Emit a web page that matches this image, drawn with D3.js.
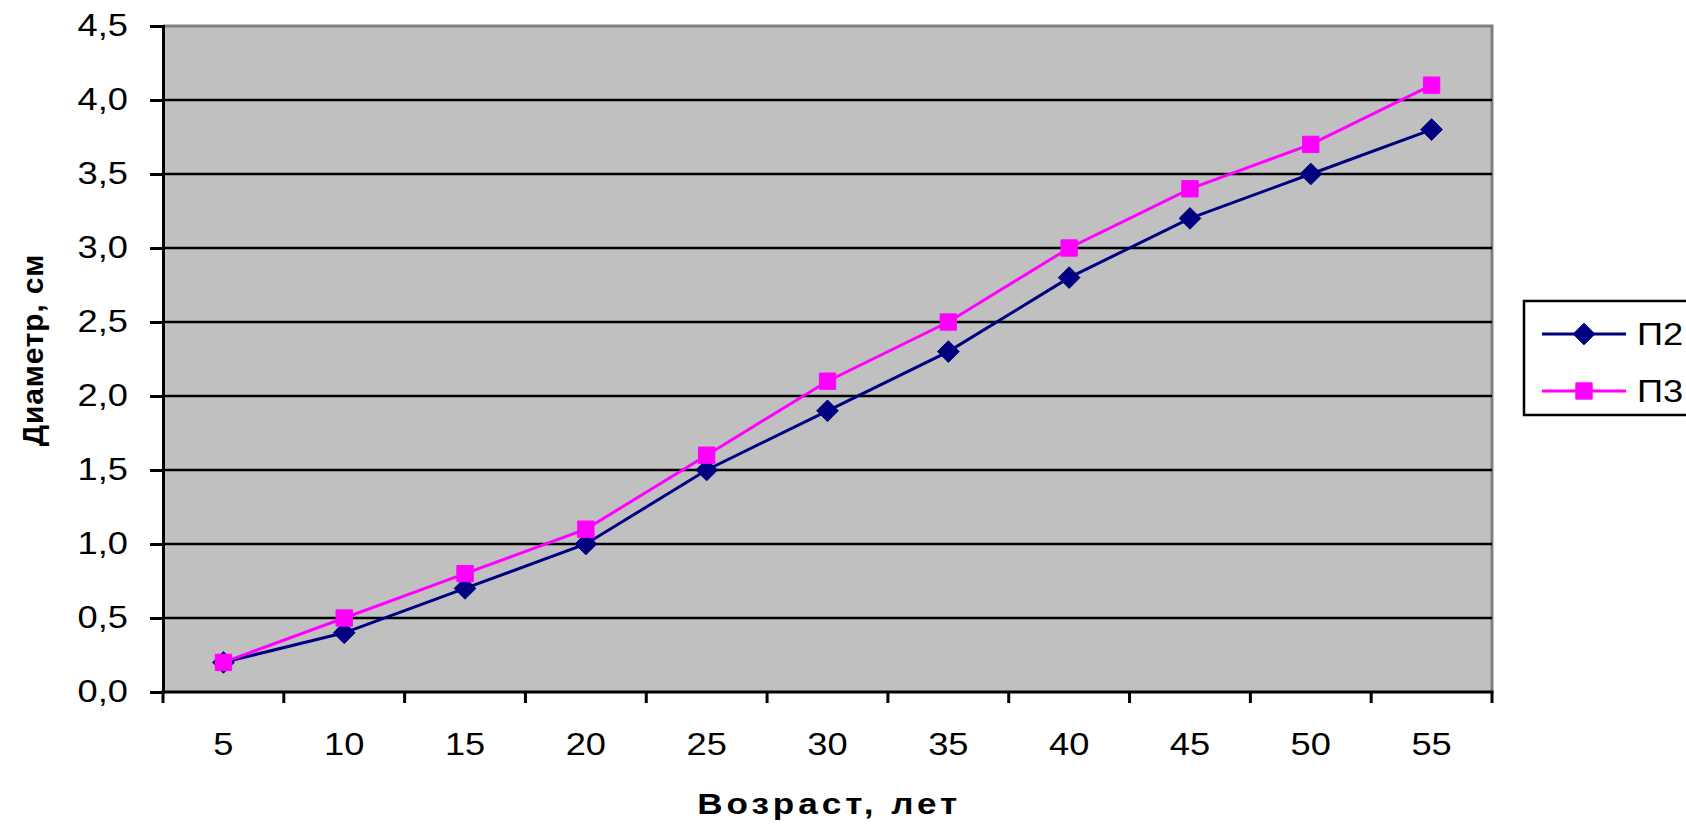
<!DOCTYPE html>
<html>
<head>
<meta charset="utf-8">
<script src="https://cdn.jsdelivr.net/npm/d3@7"></script>
<style>
  html, body { margin: 0; padding: 0; background: #ffffff; overflow: hidden; }
  svg { display: block; font-family: "Liberation Sans", Arial, sans-serif; }
</style>
</head>
<body>
<svg id="chart" width="1686" height="825"></svg>
<script>
// Age classes (years) and mean stem diameter (cm) for two plots
const ages = [5, 10, 15, 20, 25, 30, 35, 40, 45, 50, 55];
const p2 = [0.2, 0.4, 0.7, 1.0, 1.5, 1.9, 2.3, 2.8, 3.2, 3.5, 3.8];
const p3 = [0.2, 0.5, 0.8, 1.1, 1.6, 2.1, 2.5, 3.0, 3.4, 3.7, 4.1];
const yTicks = [0, 0.5, 1.0, 1.5, 2.0, 2.5, 3.0, 3.5, 4.0, 4.5];
const seriesNames = ["П2", "П3"];
const xTitle = "Возраст, лет";
const yTitle = "Диаметр, см";

const W = 1686, H = 825;
const plot = { left: 163, top: 26, right: 1492, bottom: 692 };
const textStretch = 1.17; // horizontal stretch of axis/legend lettering

const svg = d3.select("#chart");

const x = d3.scaleBand().domain(ages).range([plot.left, plot.right]).padding(0);
const y = d3.scaleLinear().domain([0, 4.5]).range([plot.bottom, plot.top]);
const cx = d => x(d) + x.bandwidth() / 2;

// Plot area background with grey frame on top/right
svg.append("rect")
  .attr("x", plot.left).attr("y", plot.top)
  .attr("width", plot.right - plot.left).attr("height", plot.bottom - plot.top)
  .attr("fill", "#c0c0c0");
svg.append("path")
  .attr("d", `M${plot.left},${plot.top}H${plot.right}V${plot.bottom}`)
  .attr("fill", "none").attr("stroke", "#808080").attr("stroke-width", 3);

// Horizontal gridlines
svg.append("g").selectAll("line")
  .data(yTicks.filter(v => v > 0 && v < 4.5))
  .join("line")
  .attr("x1", plot.left).attr("x2", plot.right)
  .attr("y1", d => y(d)).attr("y2", d => y(d))
  .attr("stroke", "#000").attr("stroke-width", 2.5);

// Y axis
const fmt = d => d.toFixed(1).replace(".", ",");
const yAxis = svg.append("g")
  .attr("transform", `translate(${plot.left},0)`)
  .call(d3.axisLeft(y).tickValues(yTicks).tickFormat(fmt).tickSize(13).tickPadding(22));
yAxis.select(".domain").attr("stroke", "#000").attr("stroke-width", 3);
yAxis.selectAll(".tick line").attr("stroke", "#000").attr("stroke-width", 3);
yAxis.selectAll(".tick text")
  .attr("font-size", 31).attr("fill", "#000")
  .attr("font-family", "Liberation Sans, Arial, sans-serif")
  .attr("x", -35 / textStretch)
  .attr("transform", `scale(${textStretch},1)`);

// X axis: labels at category centres, ticks on category boundaries
const xAxis = svg.append("g")
  .attr("transform", `translate(0,${plot.bottom})`)
  .call(d3.axisBottom(x).tickSize(0).tickPadding(0));
xAxis.select(".domain").remove();
xAxis.selectAll(".tick text")
  .attr("font-size", 31).attr("fill", "#000")
  .attr("font-family", "Liberation Sans, Arial, sans-serif")
  .attr("y", 63).attr("dy", 0)
  .attr("transform", `scale(${textStretch},1)`);
const edges = ages.map(d => x(d)).concat([x.range()[1]]);
svg.append("g").selectAll("line").data(edges).join("line")
  .attr("x1", d => d).attr("x2", d => d)
  .attr("y1", plot.bottom).attr("y2", plot.bottom + 11)
  .attr("stroke", "#000").attr("stroke-width", 3);
svg.append("line")
  .attr("x1", plot.left - 1.5).attr("x2", plot.right + 1.5)
  .attr("y1", plot.bottom).attr("y2", plot.bottom)
  .attr("stroke", "#000").attr("stroke-width", 3);

// Series
const series = [
  { name: seriesNames[0], values: p2, color: "#000080", symbol: d3.symbolDiamond2, size: 300 },
  { name: seriesNames[1], values: p3, color: "#ff00ff", symbol: d3.symbolSquare2, size: 340 }
];
const line = d3.line().x((d, i) => cx(ages[i])).y(d => y(d));

series.forEach(s => {
  const g = svg.append("g");
  g.append("path").datum(s.values)
    .attr("d", line).attr("fill", "none")
    .attr("stroke", s.color).attr("stroke-width", 3);
  g.selectAll("path.m").data(s.values).join("path")
    .attr("class", "m")
    .attr("d", d3.symbol(s.symbol, s.size))
    .attr("transform", (d, i) => `translate(${cx(ages[i])},${y(d)})`)
    .attr("fill", s.color).attr("stroke", s.color).attr("stroke-width", 1);
});

// Axis titles
const titleSpacing = 3.4;
svg.append("text")
  .attr("x", ((plot.left + plot.right) / 2 + titleSpacing / 2) / textStretch).attr("y", 814)
  .attr("transform", `scale(${textStretch},1)`)
  .attr("text-anchor", "middle")
  .attr("letter-spacing", titleSpacing)
  .attr("font-size", 30).attr("font-weight", "bold").attr("fill", "#000")
  .text(xTitle);
svg.append("text")
  .attr("transform", `translate(43,350) rotate(-90)`)
  .attr("text-anchor", "middle")
  .attr("letter-spacing", 0.8)
  .attr("font-size", 30).attr("font-weight", "bold").attr("fill", "#000")
  .text(yTitle);

// Legend
const legend = svg.append("g");
legend.append("rect")
  .attr("x", 1524).attr("y", 301).attr("width", 200).attr("height", 114)
  .attr("fill", "#fff").attr("stroke", "#000").attr("stroke-width", 2.5);
const legendRows = [334, 391];
series.forEach((s, i) => {
  const ly = legendRows[i];
  legend.append("line")
    .attr("x1", 1542).attr("x2", 1626).attr("y1", ly).attr("y2", ly)
    .attr("stroke", s.color).attr("stroke-width", 3);
  legend.append("path")
    .attr("d", d3.symbol(s.symbol, s.size)())
    .attr("transform", `translate(1584,${ly})`)
    .attr("fill", s.color).attr("stroke", s.color);
  legend.append("text")
    .attr("x", 1637 / textStretch).attr("y", ly).attr("dy", "0.36em")
    .attr("transform", `scale(${textStretch},1)`)
    .attr("font-size", 31).attr("fill", "#000")
    .text(s.name);
});
</script>
</body>
</html>
